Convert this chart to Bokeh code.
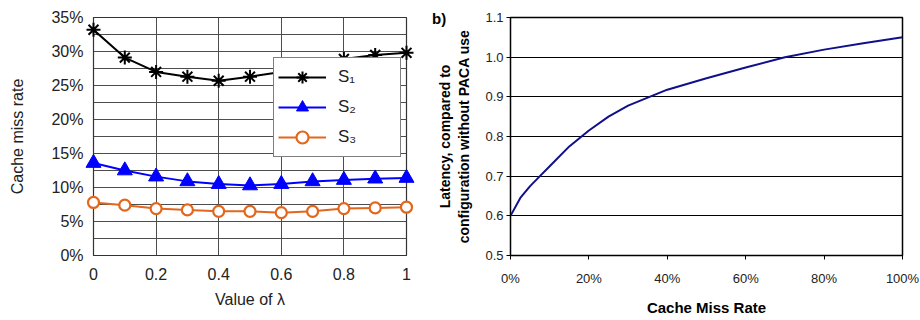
from bokeh.plotting import figure
from bokeh.layouts import row
from bokeh.models import FixedTicker, PrintfTickFormatter, Legend, LegendItem, Label, Range1d
from bokeh.embed import file_html
from bokeh.resources import INLINE

# ---- data (left chart) ----
lam = [0.0, 0.1, 0.2, 0.3, 0.4, 0.5, 0.6, 0.7, 0.8, 0.9, 1.0]
s1 = [33.2, 29.1, 27.0, 26.3, 25.7, 26.3, 27.0, 27.9, 28.9, 29.5, 29.8]
s2 = [13.6, 12.5, 11.6, 10.9, 10.5, 10.3, 10.5, 10.9, 11.1, 11.3, 11.4]
s3 = [7.8, 7.4, 6.9, 6.7, 6.5, 6.5, 6.3, 6.5, 6.9, 7.0, 7.1]
left_yticks = [0, 5, 10, 15, 20, 25, 30, 35]
left_yminor = [2.5, 7.5, 12.5, 17.5, 22.5, 27.5, 32.5]
left_xticks = [0, 0.2, 0.4, 0.6, 0.8, 1.0]

# ---- data (right chart) ----
miss_rate = [0, 2.5, 5, 7.5, 10, 15, 20, 25, 30, 35, 40, 50, 60, 70, 80, 90, 100]
latency = [0.600, 0.645, 0.675, 0.700, 0.725, 0.775, 0.815, 0.850, 0.878, 0.898,
           0.918, 0.947, 0.974, 1.000, 1.019, 1.035, 1.050]
right_xticks = [0, 20, 40, 60, 80, 100]
right_yticks = [0.5, 0.6, 0.7, 0.8, 0.9, 1.0, 1.1]

FONT = "Liberation Sans"

# ---------------- left figure ----------------
p1 = figure(width=428, height=320, output_backend="svg", toolbar_location=None,
            x_range=Range1d(0, 1), y_range=Range1d(0, 35),
            min_border_left=93, min_border_right=22, min_border_top=17, min_border_bottom=65)
p1.outline_line_color = "#333333"
p1.outline_line_width = 1.2

r1 = p1.line(lam, s1, line_color="black", line_width=2)
m1 = p1.scatter(lam, s1, marker="asterisk", size=14, line_color="black", line_width=2, level="overlay")
r2 = p1.line(lam, s2, line_color="#0000ff", line_width=2)
m2 = p1.scatter(lam, s2, marker="triangle", size=15, fill_color="#0000ff", line_color="#0000ff", level="overlay")
r3 = p1.line(lam, s3, line_color="#e3661c", line_width=2)
m3 = p1.scatter(lam, s3, marker="circle", size=11, fill_color="white", line_color="#e3661c",
                line_width=2.2, level="overlay")

p1.yaxis.ticker = FixedTicker(ticks=left_yticks, minor_ticks=left_yminor)
p1.xaxis.ticker = FixedTicker(ticks=left_xticks)
p1.yaxis.formatter = PrintfTickFormatter(format="%d%%")
p1.xaxis.formatter = PrintfTickFormatter(format="%g")
for ax in (p1.xaxis, p1.yaxis):
    ax.major_tick_out = 0
    ax.major_tick_in = 0
    ax.minor_tick_out = 0
    ax.minor_tick_in = 0
    ax.axis_line_color = "#333333"
    ax.major_label_text_font = FONT
    ax.major_label_text_font_size = "16px"
    ax.major_label_text_color = "#222222"
    ax.axis_label_text_font = FONT
    ax.axis_label_text_font_size = "16px"
    ax.axis_label_text_font_style = "normal"
    ax.axis_label_text_color = "#222222"
p1.yaxis.major_label_standoff = 10
p1.xaxis.major_label_standoff = 12
p1.yaxis.axis_label = "Cache miss rate"
p1.xaxis.axis_label = "Value of λ"
p1.yaxis.axis_label_standoff = 22
p1.xaxis.axis_label_standoff = 8

p1.xgrid.grid_line_color = "#4d4d4d"
p1.ygrid.grid_line_color = "#4d4d4d"
p1.ygrid.minor_grid_line_color = "#4d4d4d"
p1.xgrid.grid_line_width = 1
p1.ygrid.grid_line_width = 1

legend = Legend(items=[LegendItem(label="S₁", renderers=[r1, m1]),
                       LegendItem(label="S₂", renderers=[r2, m2]),
                       LegendItem(label="S₃", renderers=[r3, m3])],
                location=(180, 98))
legend.border_line_color = "black"
legend.border_line_width = 1.2
legend.background_fill_color = "white"
legend.background_fill_alpha = 1
legend.label_text_font = FONT
legend.label_text_font_size = "17px"
legend.label_text_color = "#222222"
legend.glyph_width = 48
legend.glyph_height = 30
legend.spacing = -7
legend.padding = 4
legend.margin = 0
legend.label_standoff = 12
legend.label_width = 58
p1.add_layout(legend, "center")

# ---------------- right figure ----------------
p2 = figure(width=492, height=320, output_backend="svg", toolbar_location=None,
            x_range=Range1d(0, 100), y_range=Range1d(0.5, 1.1),
            min_border_left=82, min_border_right=18, min_border_top=8, min_border_bottom=63)
p2.outline_line_color = "black"
p2.outline_line_width = 1.5
p2.line(miss_rate, latency, line_color="#10108a", line_width=2)

p2.xaxis.ticker = FixedTicker(ticks=right_xticks)
p2.yaxis.ticker = FixedTicker(ticks=right_yticks)
p2.xaxis.formatter = PrintfTickFormatter(format="%d%%")
p2.yaxis.formatter = PrintfTickFormatter(format="%.1f")
for ax in (p2.xaxis, p2.yaxis):
    ax.major_tick_out = 4
    ax.major_tick_in = 0
    ax.minor_tick_out = 0
    ax.minor_tick_in = 0
    ax.axis_line_color = "black"
    ax.major_tick_line_color = "black"
    ax.major_label_text_font = FONT
    ax.major_label_text_font_size = "13px"
    ax.major_label_text_color = "#222222"
    ax.axis_label_text_font = FONT
    ax.axis_label_text_font_style = "bold"
    ax.axis_label_text_color = "black"
p2.xaxis.major_label_standoff = 11
p2.yaxis.major_label_standoff = 3
p2.xaxis.axis_label = "Cache Miss Rate"
p2.xaxis.axis_label_text_font_size = "15px"
p2.xaxis.axis_label_standoff = 10
p2.yaxis.axis_label = "Latency, compared to\nconfiguration without PACA use"
p2.yaxis.axis_label_text_font_size = "14px"
p2.yaxis.axis_label_standoff = 10
p2.xgrid.visible = False
p2.ygrid.grid_line_color = "black"
p2.ygrid.grid_line_width = 1.2

# panel label "b)" (kept in a side panel so it is not clipped to the frame)
p2.add_layout(Label(x=-20, y=1.097, text="b)",
                    text_font=FONT, text_font_size="15px", text_font_style="bold",
                    text_baseline="middle", text_color="black"), "right")

layout = row(p1, p2)
open("out.html", "w").write(file_html(layout, INLINE))
